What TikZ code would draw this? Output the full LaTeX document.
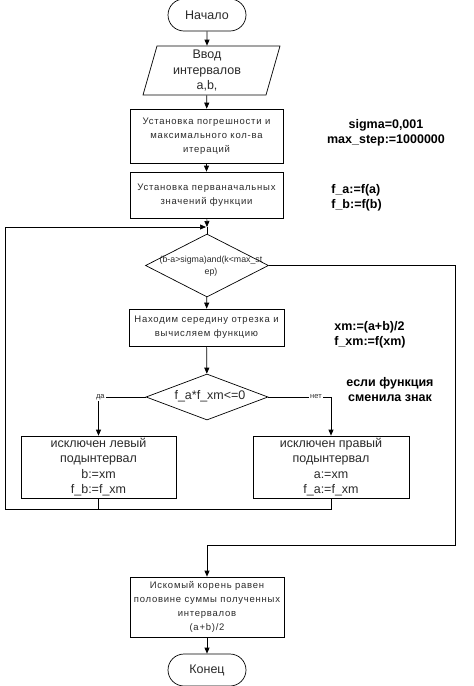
\documentclass[tikz,border=0pt]{standalone}
\usepackage{fontspec}
\setmainfont{Liberation Sans}
\newfontfamily\spacedfont[LetterSpace=8]{Liberation Sans}
\usetikzlibrary{shapes.misc,shapes.geometric,arrows.meta}
\newcommand\smalltxt{\spacedfont\fontsize{9.5}{13.8}\selectfont}
\newcommand\bigtxt{\fontsize{12.5}{15.6}\selectfont}
\newcommand\notetxt{\bfseries\fontsize{12.5}{15}\selectfont}
\newcommand\tinytxt{\fontsize{7.5}{12}\selectfont}
\newcommand\condtxt{\fontsize{8.8}{12}\selectfont}
\definecolor{txt}{HTML}{2A2A2A}
\begin{document}
\begin{tikzpicture}[x=1pt,y=-1pt,line width=0.7pt,
  every node/.style={text=txt},
  term/.style={draw,rounded rectangle,minimum width=78pt,minimum height=32pt,inner sep=0pt,font=\bigtxt},
  box/.style={draw,rectangle,inner sep=1pt,align=center},
  dia/.style={draw,diamond,inner sep=0pt},
  note/.style={font=\notetxt,text=black,inner sep=0pt},
  lbl/.style={font=\tinytxt,fill=white,inner sep=1pt},
  arr/.style={-{Triangle[length=6pt,width=5pt]}}]
\useasboundingbox (0,0) rectangle (474,686);

\node[term] (start) at (207,15) {Начало};
\node[inner sep=0pt,minimum width=110pt,minimum height=49pt,align=center,font=\bigtxt] (in) at (207,70.5) {Ввод\\интервалов\\a,b,};
\draw (143,95) -- (157,46) -- (280,46) -- (266,95) -- cycle;
\node[box,font=\smalltxt,minimum width=153pt,minimum height=54pt] (b1) at (206.5,136) {Установка погрешности и\\максимального кол-ва\\итераций};
\node[box,font=\smalltxt,minimum width=153pt,minimum height=46pt] (b2) at (206.5,195) {Установка перваначальных\\значений функции};
\coordinate (m) at (207,227);
\node[dia,minimum width=123pt,minimum height=63pt] (d1) at (207,265.5) {};
\node[font=\condtxt,align=center,inner sep=0pt] (d1t) at (211,266) {(b-a>sigma)and(k<max\_st\\ep)};
\node[box,font=\smalltxt,minimum width=155pt,minimum height=37pt] (b3) at (206.5,327.5) {Находим середину отрезка и\\вычисляем функцию};
\node[dia,minimum width=122pt,minimum height=46pt] (d2) at (207,397) {};
\node[font=\bigtxt,inner sep=0pt] (d2t) at (210,396) {f\_a*f\_xm<=0};
\node[box,font=\bigtxt,minimum width=155pt,minimum height=62pt] (lbox) at (98.5,467) {исключен левый\\подынтервал\\b:=xm\\f\_b:=f\_xm};
\node[box,font=\bigtxt,minimum width=156pt,minimum height=62pt] (rbox) at (331,467) {исключен правый\\подынтервал\\a:=xm\\f\_a:=f\_xm};
\node[box,font=\smalltxt,minimum width=154pt,minimum height=60pt] (fbox) at (207,607) {Искомый корень равен\\половине суммы полученных\\интервалов\\(a+b)/2};
\node[term] (end) at (207,670) {Конец};

\node[note,align=center] (n1) at (386,133) {sigma=0,001\\max\_step:=1000000};
\node[note,align=left,anchor=west] (n2) at (331,198) {f\_a:=f(a)\\f\_b:=f(b)};
\node[note,align=left,anchor=west] (n3) at (334,335) {xm:=(a+b)/2\\f\_xm:=f(xm)};
\node[note,align=center] (n4) at (390,390) {если функция\\сменила знак};

\coordinate (j) at (98.5,509);
\coordinate (l1) at (5,509);
\coordinate (r1) at (455,545);

\draw[arr] (start) -- (in);
\draw[arr] (in) -- (b1);
\draw[arr] (b1) -- (b2);
\draw[arr] (b2) -- (m);
\draw (m) -- (d1.north);
\draw[arr] (d1) -- (b3);
\draw[arr] (b3) -- (d2);
\draw[arr] (d2.west) -| node[lbl,pos=0.48] {да} (lbox.north);
\draw[arr] (d2.east) -| node[lbl,pos=0.38] {нет} (rbox.north);
\draw (lbox.south) -- (j);
\draw (rbox.south) |- (j);
\draw[arr] (j) -- (l1) |- ([xshift=-1pt]m);
\draw[arr] (d1.east) -| (r1) -| (fbox.north);
\draw[arr] (fbox) -- (end);
\end{tikzpicture}
\end{document}
